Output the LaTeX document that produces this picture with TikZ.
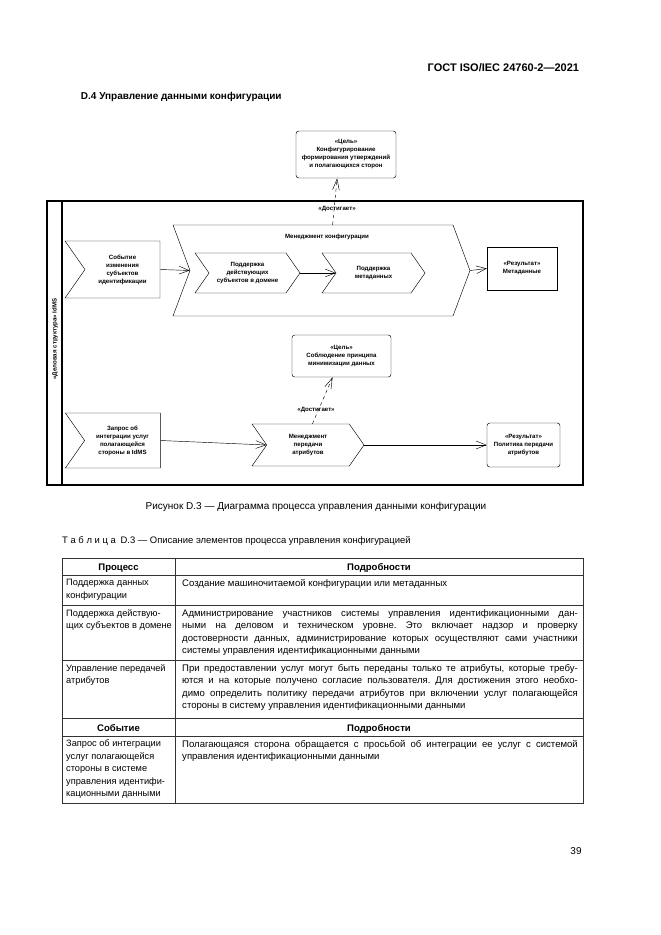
\documentclass[tikz,border=0pt]{standalone}
\usepackage{fontspec}
\setmainfont{Liberation Sans}
\usetikzlibrary{shapes.symbols, arrows.meta, positioning}
\frenchspacing

\tikzset{
    diag/.style={font=\fontsize{5.5}{7.2}\selectfont\bfseries, align=center, inner sep=1pt},
    goalbox/.style={diag, draw, rounded corners=2.5pt},
    resbox/.style={diag, draw},
    eventbox/.style={diag, draw, shape=signal, signal from=west, signal to=nowhere,
        signal pointer angle=110},
    procbox/.style={diag, draw, shape=signal, signal from=west, signal to=east,
        signal pointer angle=110},
    flow/.style={-{Straight Barb[length=9pt, width=7pt]}},
    realize/.style={dashed, -{Straight Barb[length=10pt, width=6pt]}},
    tabtext/.style={font=\fontsize{8.6}{11.25}\selectfont, anchor=north west, inner sep=0pt},
    tabhead/.style={font=\fontsize{8.6}{11.25}\selectfont\bfseries, inner sep=0pt},
}

\begin{document}
\begin{tikzpicture}[x=0.9pt, y=-0.9pt]
    \useasboundingbox (0,0) rectangle (661,935);

    % Page head
    \node[font=\fontsize{9.9}{12}\selectfont\bfseries, anchor=east] (gost) at (583,68) {ГОСТ ISO/IEC 24760-2—2021};
    \node[font=\fontsize{9}{11}\selectfont\bfseries, anchor=west] (title) at (77,97) {D.4 Управление данными конфигурации};

    % Frame of the lane
    \draw[line width=1.2pt] (47,201) rectangle (583,485);
    \draw[line width=1.2pt] (62,201) -- (62,485);
    \node[diag, rotate=90] (lane) at (55,339) {«Деловая структура» IdMS};

    % Upper goal and configuration management
    \node[goalbox, minimum width=90pt, minimum height=42.3pt] (goal1) at (346,154.5)
        {«Цель»\\Конфигурирование\\формирования утверждений\\и полагающихся сторон};
    \node[eventbox, minimum width=85.5pt, minimum height=51.3pt] (change) at (122.5,269.5)
        {Событие\\изменения\\субъектов\\идентификации};
    \node[procbox, signal pointer angle=139, minimum width=267.3pt, minimum height=81.9pt] (cfg) at (321.5,270.5) {};
    \node[diag] (cfgtitle) at (327,237) {Менеджмент конфигурации};
    \node[procbox, minimum width=94.5pt, minimum height=36pt] (subj) at (247.5,273)
        {Поддержка\\действующих\\субъектов в домене};
    \node[procbox, minimum width=92.7pt, minimum height=36pt] (meta) at (373.5,273)
        {Поддержка\\метаданных};
    \node[resbox, minimum width=63pt, minimum height=38.7pt] (res1) at (522,268.5)
        {«Результат»\\Метаданные};

    \draw[flow] (change.east) -- (cfg.west);
    \draw[flow] (subj.east) -- (meta.west);
    \draw[flow] (cfg.east) -- (res1.west);
    \draw[realize] ([xshift=10pt]cfg.north) -- ([xshift=-8pt]goal1.south);
    \node[diag] (reach1) at (337,209) {«Достигает»};

    % Lower goal and attribute transfer
    \node[goalbox, minimum width=89.1pt, minimum height=37.8pt] (goal2) at (341.5,356)
        {«Цель»\\Соблюдение принципа\\минимизации данных};
    \node[eventbox, minimum width=85.5pt, minimum height=49.5pt] (request) at (122.5,440.5)
        {Запрос об\\интеграции услуг\\полагающейся\\стороны в IdMS};
    \node[procbox, minimum width=100.8pt, minimum height=37.8pt] (attr) at (308,445)
        {Менеджмент\\передачи\\атрибутов};
    \node[goalbox, minimum width=65.7pt, minimum height=39.6pt] (res2) at (523.5,445)
        {«Результат»\\Политика передачи\\атрибутов};

    \draw[flow] (request.east) -- (attr.west);
    \draw[flow] (attr.east) -- (res2.west);
    \draw[realize] ([xshift=4pt]attr.north) -- ([xshift=-8pt]goal2.south);
    \node[diag] (reach2) at (316,410) {«Достигает»};

    % Captions
    \node[font=\fontsize{9}{11}\selectfont] (caption) at (316,507)
        {Рисунок D.3 — Диаграмма процесса управления данными конфигурации};
    \node[font=\fontsize{8.5}{11}\selectfont, anchor=west, inner sep=0pt] (tabtitle) at (62,541)
        {Т~а~б~л~и~ц~а\enspace D.3 — Описание элементов процесса управления конфигурацией};

    % Table grid
    \draw[black!80, line width=0.5pt] (62,558) rectangle (583,803);
    \foreach \y in {575,605,660,718,736} {
        \draw[black!80, line width=0.5pt] (62,\y) -- (583,\y);
    }
    \draw[black!80, line width=0.5pt] (175,558) -- (175,803);

    % Table texts
    \node[tabhead] (h1) at (118.5,568) {Процесс};
    \node[tabhead] (h2) at (379,568) {Подробности};
    \node[tabtext, align=left, font=\fontsize{8.3}{11.25}\selectfont] (p1) at (66,579) {Поддержка данных\\конфигурации};
    \node[tabtext, text width=356pt, align=justify] (d1) at (182,579)
        {Создание машиночитаемой конфигурации или метаданных};
    \node[tabtext, align=left, font=\fontsize{8.3}{11.25}\selectfont] (p2) at (66,609) {Поддержка действую-\\щих субъектов в домене};
    \node[tabtext, text width=356pt, align=justify] (d2) at (182,609)
        {Администрирование участников системы управления идентификационными дан-\linebreak
        ными на деловом и техническом уровне. Это включает надзор и проверку\linebreak
        достоверности данных, администрирование которых осуществляют сами участники\linebreak
        системы управления идентификационными данными};
    \node[tabtext, align=left, font=\fontsize{8.3}{11.25}\selectfont] (p3) at (66,664) {Управление передачей\\атрибутов};
    \node[tabtext, text width=356pt, align=justify] (d3) at (182,664)
        {При предоставлении услуг могут быть переданы только те атрибуты, которые требу-\linebreak
        ются и на которые получено согласие пользователя. Для достижения этого необхо-\linebreak
        димо определить политику передачи атрибутов при включении услуг полагающейся\linebreak
        стороны в систему управления идентификационными данными};
    \node[tabhead] (h3) at (118.5,728.5) {Событие};
    \node[tabhead] (h4) at (379,728.5) {Подробности};
    \node[tabtext, align=left, font=\fontsize{8.3}{11.25}\selectfont] (e1) at (66,740)
        {Запрос об интеграции\\услуг полагающейся\\стороны в системе\\управления идентифи-\\кационными данными};
    \node[tabtext, text width=356pt, align=justify] (d4) at (182,740)
        {Полагающаяся сторона обращается с просьбой об интеграции ее услуг с системой\linebreak
        управления идентификационными данными};

    % Page number
    \node[font=\fontsize{9}{11}\selectfont] (page) at (576,851) {39};
\end{tikzpicture}
\end{document}
